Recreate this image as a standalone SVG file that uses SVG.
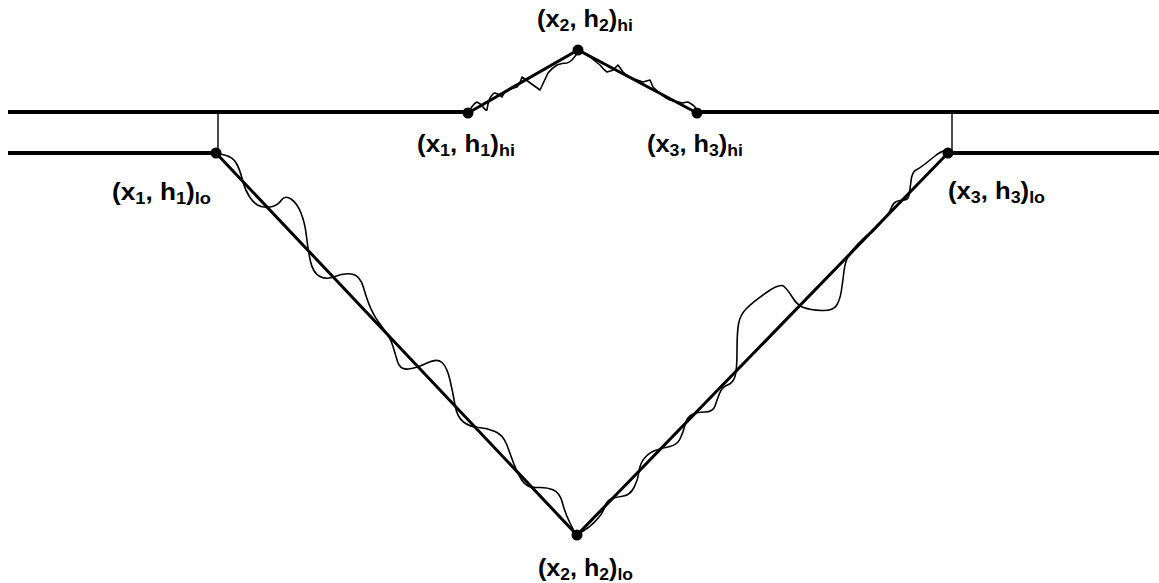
<svg xmlns="http://www.w3.org/2000/svg" width="1159" height="583" viewBox="0 0 1159 583">
<style>
.bg{fill:#ffffff}
.thick{stroke:#000;stroke-width:4;fill:none}
.main{stroke:#000;stroke-width:3;fill:none;stroke-linecap:round}
.thin{stroke:#000;stroke-width:1.4;fill:none}
.wig{stroke:#000;stroke-width:1.6;fill:none;stroke-linejoin:round;stroke-linecap:round}
.dot{fill:#000}
.lbl{font-family:"Liberation Sans",Arial,sans-serif;font-weight:bold;font-size:23px;fill:#000}
.sub{font-size:16px}
</style>
<rect class="bg" x="0" y="0" width="1159" height="583"/>
<g id="connectors">
  <line class="thick" x1="8" y1="112" x2="468" y2="112"/>
  <line class="thick" x1="697" y1="112" x2="1159" y2="112"/>
  <line class="thick" x1="8" y1="153" x2="216" y2="153"/>
  <line class="thick" x1="948" y1="153" x2="1159" y2="153"/>
  <line class="thin" x1="218" y1="112" x2="218" y2="153"/>
  <line class="thin" x1="952" y1="112" x2="952" y2="152"/>
  <polyline class="main" points="468,113 578,50 697,113"/>
  <polyline class="main" points="216,153 577,535 948,153"/>
  <path class="wig" d="M216,153 L224.5,155 Q233,157 236.5,163.5 Q240,170 242.5,180 Q245,190 250,197.5 Q255,205 261,206.5 Q267,208 272.5,206.5 Q278,205 281.5,200 Q285,195 291,199 Q297,203 301,213 Q305,223 306.5,236.5 Q308,250 310.5,261.5 Q313,273 320,276.5 Q327,280 335,276.5 Q343,273 351.5,274 Q360,275 363.5,287.5 Q367,300 371,309 Q375,318 382.5,327.5 Q390,337 392.5,345 Q395,353 397.5,361.5 Q400,370 408.5,369 Q417,368 427,363 Q437,358 442,362.5 Q447,367 450,380 Q453,393 455,405 Q457,417 463.5,422 Q470,427 478.5,427.5 Q487,428 495,431.5 Q503,435 506.5,444 Q510,453 513.5,463 Q517,473 522,480.5 Q527,488 537,487.5 Q547,487 553.5,490 Q560,493 562.5,503 Q565,513 570,523 L575,533"/>
  <path class="wig" d="M578,534 L584,530.5 Q590,527 596.5,520 Q603,513 605,506.5 Q607,500 612,498.5 Q617,497 623.5,496 Q630,495 634,487.5 Q638,480 639,471.5 Q640,463 645,457.5 Q650,452 656.5,450 Q663,448 670,446.5 Q677,445 680,439 Q683,433 685,425 Q687,417 692,414.5 Q697,412 705,412 Q713,412 715,406 Q717,400 719.5,393.5 Q722,387 727.5,385 Q733,383 735,376.5 Q737,370 737,351.5 Q737,333 738.5,324 Q740,315 746.5,308.5 Q753,302 766.5,292.5 Q780,283 784,286.5 Q788,290 792.5,297.5 Q797,305 803.5,307.5 Q810,310 821.5,310.5 Q833,311 836.5,305.5 Q840,300 841.5,290 Q843,280 844,271 Q845,262 848.5,256 Q852,250 857,245 Q862,240 864.5,237.5 Q867,235 870,233.5 Q873,232 878,226 Q883,220 886.5,216 Q890,212 891.5,207.5 Q893,203 896.5,201.5 Q900,200 904,200 Q908,200 909,195 Q910,190 911,181 Q912,172 916,170 Q920,168 925,164 Q930,160 935,156 Q940,152 943.5,151 L947,150"/>
  <path class="wig" d="M468,113 L470,110 Q473,104 477,102 Q481,104 483,107 Q486,111 487,110 Q488,102 490,98 Q493,93 495,93 Q499,94 502,97 Q505,91 508,90 Q513,88 517,87 Q520,84 522,77 L540,90 L548,73 Q552,68 557,65 Q562,63 567,63 Q570,62 572,60 L580,50"/>
  <path class="wig" d="M577,50 Q584,53 590,57 Q595,61 600,65 Q604,70 607,72 Q611,71 613,70 L618,65 L623,72 Q626,75 630,77 Q636,80 643,82 L650,80 L653,87 Q657,91 662,95 Q666,98 670,100 Q677,102 683,103 Q686,102 688,102 Q692,104 695,107 L697,113"/>
</g>
<g id="node-x1h1-lo">
  <circle class="dot" cx="216" cy="153" r="5.5"/>
  <text class="lbl" x="112" y="200" textLength="99" lengthAdjust="spacingAndGlyphs">(x<tspan class="sub" dy="4">1</tspan><tspan dy="-4">, h</tspan><tspan class="sub" dy="4">1</tspan><tspan dy="-4">)</tspan><tspan class="sub" dy="4">lo</tspan></text>
</g>
<g id="node-x3h3-lo">
  <circle class="dot" cx="948" cy="153" r="5.5"/>
  <text class="lbl" x="948" y="199" textLength="97" lengthAdjust="spacingAndGlyphs">(x<tspan class="sub" dy="4">3</tspan><tspan dy="-4">, h</tspan><tspan class="sub" dy="4">3</tspan><tspan dy="-4">)</tspan><tspan class="sub" dy="4">lo</tspan></text>
</g>
<g id="node-x2h2-lo">
  <circle class="dot" cx="577" cy="535" r="5.5"/>
  <text class="lbl" x="538" y="576" textLength="95" lengthAdjust="spacingAndGlyphs">(x<tspan class="sub" dy="4">2</tspan><tspan dy="-4">, h</tspan><tspan class="sub" dy="4">2</tspan><tspan dy="-4">)</tspan><tspan class="sub" dy="4">lo</tspan></text>
</g>
<g id="node-x1h1-hi">
  <circle class="dot" cx="468" cy="113" r="5.5"/>
  <text class="lbl" x="417" y="152" textLength="98" lengthAdjust="spacingAndGlyphs">(x<tspan class="sub" dy="4">1</tspan><tspan dy="-4">, h</tspan><tspan class="sub" dy="4">1</tspan><tspan dy="-4">)</tspan><tspan class="sub" dy="4">hi</tspan></text>
</g>
<g id="node-x2h2-hi">
  <circle class="dot" cx="578" cy="50" r="5.5"/>
  <text class="lbl" x="537" y="27" textLength="96" lengthAdjust="spacingAndGlyphs">(x<tspan class="sub" dy="4">2</tspan><tspan dy="-4">, h</tspan><tspan class="sub" dy="4">2</tspan><tspan dy="-4">)</tspan><tspan class="sub" dy="4">hi</tspan></text>
</g>
<g id="node-x3h3-hi">
  <circle class="dot" cx="697" cy="113" r="5.5"/>
  <text class="lbl" x="647" y="152" textLength="96" lengthAdjust="spacingAndGlyphs">(x<tspan class="sub" dy="4">3</tspan><tspan dy="-4">, h</tspan><tspan class="sub" dy="4">3</tspan><tspan dy="-4">)</tspan><tspan class="sub" dy="4">hi</tspan></text>
</g>
</svg>
